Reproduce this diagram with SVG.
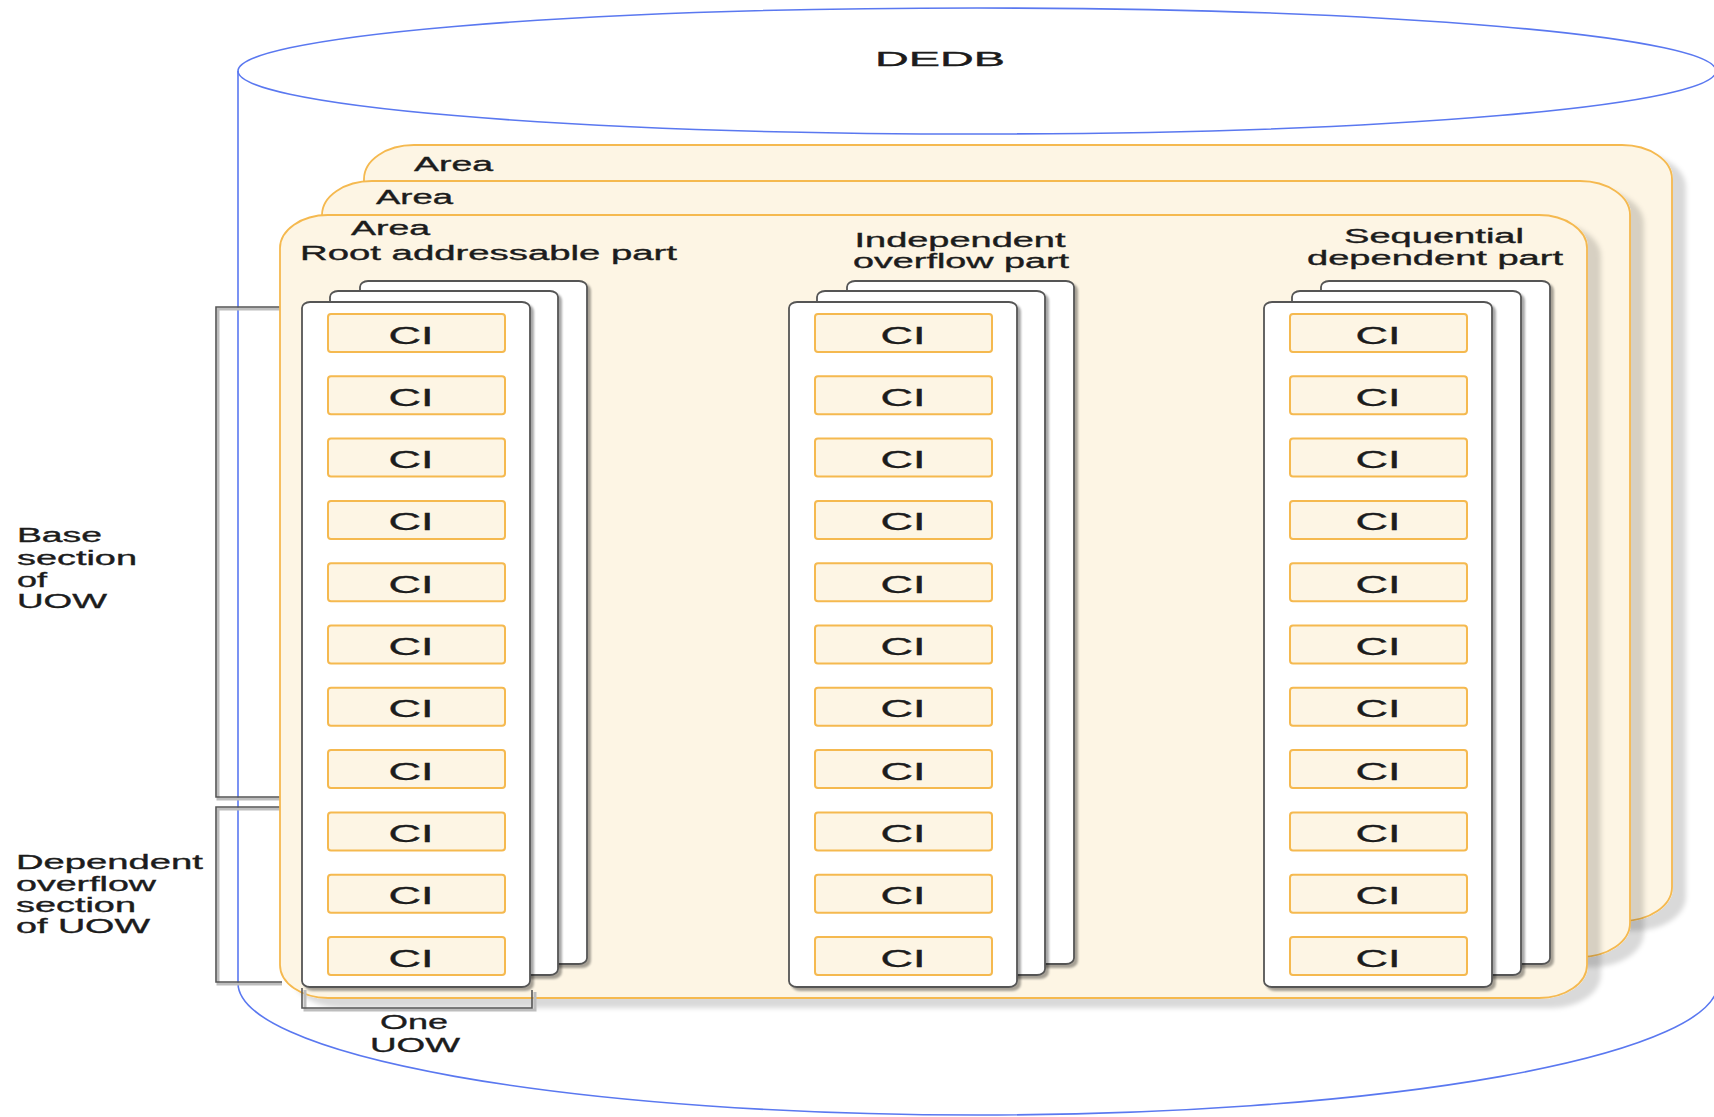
<svg xmlns="http://www.w3.org/2000/svg" width="1714" height="1117" viewBox="0 0 1714 1117">
<defs>
<style>
.t{font-family:"Liberation Sans",Arial,sans-serif;fill:#1c1c1c;stroke:#1c1c1c;stroke-width:0.35;font-size:20px}
.ci-t{font-family:"Liberation Sans",Arial,sans-serif;fill:#1c1c1c;stroke:#1c1c1c;stroke-width:0.35;font-size:23px;text-anchor:middle}
.mid{text-anchor:middle}
.area{fill:#fdf5e4;stroke:#f5b94f;stroke-width:1.8}
.card{fill:#fff;stroke:#555;stroke-width:1.8}
.ci{fill:#fdf5e4;stroke:#f5b94f;stroke-width:2}
.br{fill:none;stroke:#555;stroke-width:1.6}
.brs{fill:none;stroke:#bdbdbd;stroke-width:3}
.cyl{fill:none;stroke:#5a78f0;stroke-width:1.6}
</style>
<filter id="ash" x="-5%" y="-5%" width="115%" height="115%">
<feDropShadow dx="13" dy="9" stdDeviation="2.5" flood-color="#000" flood-opacity="0.15"/>
</filter>
<filter id="csh" x="-5%" y="-5%" width="115%" height="115%">
<feDropShadow dx="3" dy="3" stdDeviation="1.2" flood-color="#000" flood-opacity="0.35"/>
</filter>
</defs>
<rect width="1714" height="1117" fill="#fff"/>

<g id="dedb">
<path class="cyl" d="M238 71 L238 983 A740 132 0 0 0 1718 983 L1718 71"/>
<ellipse class="cyl" cx="977" cy="71" rx="739" ry="63" fill="#fff"/>
<text class="t mid" x="940" y="66" font-size="28" textLength="130" lengthAdjust="spacingAndGlyphs">DEDB</text>
</g>

<g id="connectors">
<path class="brs" d="M282 309 H218 V799 H282"/>
<path class="br" d="M282 307 H216 V797 H282"/>
<path class="brs" d="M282 809 H218 V984 H282"/>
<path class="br" d="M282 807 H216 V982 H282"/>
</g>

<g id="area3">
<rect class="area" filter="url(#ash)" x="364" y="145" width="1308" height="776" rx="50" ry="34"/>
<text class="t" x="414" y="171" textLength="79" lengthAdjust="spacingAndGlyphs">Area</text>
</g>
<g id="area2">
<rect class="area" filter="url(#ash)" x="322" y="181" width="1308" height="776" rx="50" ry="34"/>
<text class="t" x="376" y="204" textLength="77" lengthAdjust="spacingAndGlyphs">Area</text>
</g>
<g id="area1">
<rect class="area" filter="url(#ash)" x="280" y="215" width="1307" height="783" rx="48" ry="33"/>
<text class="t" x="351" y="235" textLength="79" lengthAdjust="spacingAndGlyphs">Area</text>
</g>

<g id="label-root">
<text class="t" x="300" y="260" textLength="377" lengthAdjust="spacingAndGlyphs">Root addressable part</text>
</g>
<g id="label-iovf">
<text class="t mid" x="960" y="247" textLength="211" lengthAdjust="spacingAndGlyphs">Independent</text>
<text class="t mid" x="961" y="268" textLength="216" lengthAdjust="spacingAndGlyphs">overflow part</text>
</g>
<g id="label-sdep">
<text class="t mid" x="1434" y="243" textLength="180" lengthAdjust="spacingAndGlyphs">Sequential</text>
<text class="t mid" x="1435" y="265" textLength="256" lengthAdjust="spacingAndGlyphs">dependent part</text>
</g>

<g id="stack-root">
<rect class="card" filter="url(#csh)" x="360" y="281" width="227" height="683" rx="8" ry="6"/>
<rect class="card" filter="url(#csh)" x="330" y="291" width="228" height="684" rx="8" ry="6"/>
<rect class="card" filter="url(#csh)" x="302" y="302" width="228" height="685" rx="8" ry="6"/>
</g>
<g id="stack-iovf">
<rect class="card" filter="url(#csh)" x="847" y="281" width="227" height="683" rx="8" ry="6"/>
<rect class="card" filter="url(#csh)" x="817" y="291" width="228" height="684" rx="8" ry="6"/>
<rect class="card" filter="url(#csh)" x="789" y="302" width="228" height="685" rx="8" ry="6"/>
</g>
<g id="stack-sdep">
<rect class="card" filter="url(#csh)" x="1321" y="281" width="229" height="683" rx="8" ry="6"/>
<rect class="card" filter="url(#csh)" x="1292" y="291" width="229" height="684" rx="8" ry="6"/>
<rect class="card" filter="url(#csh)" x="1264" y="302" width="228" height="685" rx="8" ry="6"/>
</g>

<g id="ci-root">
<g id="ci-r1"><rect class="ci" x="328" y="314" width="177" height="38" rx="3"/><text class="ci-t" x="411" y="343.5" textLength="45" lengthAdjust="spacingAndGlyphs">CI</text></g>
<g id="ci-r2"><rect class="ci" x="328" y="376.3" width="177" height="38" rx="3"/><text class="ci-t" x="411" y="405.8" textLength="45" lengthAdjust="spacingAndGlyphs">CI</text></g>
<g id="ci-r3"><rect class="ci" x="328" y="438.6" width="177" height="38" rx="3"/><text class="ci-t" x="411" y="468.1" textLength="45" lengthAdjust="spacingAndGlyphs">CI</text></g>
<g id="ci-r4"><rect class="ci" x="328" y="500.9" width="177" height="38" rx="3"/><text class="ci-t" x="411" y="530.4" textLength="45" lengthAdjust="spacingAndGlyphs">CI</text></g>
<g id="ci-r5"><rect class="ci" x="328" y="563.2" width="177" height="38" rx="3"/><text class="ci-t" x="411" y="592.7" textLength="45" lengthAdjust="spacingAndGlyphs">CI</text></g>
<g id="ci-r6"><rect class="ci" x="328" y="625.5" width="177" height="38" rx="3"/><text class="ci-t" x="411" y="655" textLength="45" lengthAdjust="spacingAndGlyphs">CI</text></g>
<g id="ci-r7"><rect class="ci" x="328" y="687.8" width="177" height="38" rx="3"/><text class="ci-t" x="411" y="717.3" textLength="45" lengthAdjust="spacingAndGlyphs">CI</text></g>
<g id="ci-r8"><rect class="ci" x="328" y="750.1" width="177" height="38" rx="3"/><text class="ci-t" x="411" y="779.6" textLength="45" lengthAdjust="spacingAndGlyphs">CI</text></g>
<g id="ci-r9"><rect class="ci" x="328" y="812.4" width="177" height="38" rx="3"/><text class="ci-t" x="411" y="841.9" textLength="45" lengthAdjust="spacingAndGlyphs">CI</text></g>
<g id="ci-r10"><rect class="ci" x="328" y="874.7" width="177" height="38" rx="3"/><text class="ci-t" x="411" y="904.2" textLength="45" lengthAdjust="spacingAndGlyphs">CI</text></g>
<g id="ci-r11"><rect class="ci" x="328" y="937" width="177" height="38" rx="3"/><text class="ci-t" x="411" y="966.5" textLength="45" lengthAdjust="spacingAndGlyphs">CI</text></g>
</g>

<g id="ci-iovf">
<g id="ci-i1"><rect class="ci" x="815" y="314" width="177" height="38" rx="3"/><text class="ci-t" x="903" y="343.5" textLength="45" lengthAdjust="spacingAndGlyphs">CI</text></g>
<g id="ci-i2"><rect class="ci" x="815" y="376.3" width="177" height="38" rx="3"/><text class="ci-t" x="903" y="405.8" textLength="45" lengthAdjust="spacingAndGlyphs">CI</text></g>
<g id="ci-i3"><rect class="ci" x="815" y="438.6" width="177" height="38" rx="3"/><text class="ci-t" x="903" y="468.1" textLength="45" lengthAdjust="spacingAndGlyphs">CI</text></g>
<g id="ci-i4"><rect class="ci" x="815" y="500.9" width="177" height="38" rx="3"/><text class="ci-t" x="903" y="530.4" textLength="45" lengthAdjust="spacingAndGlyphs">CI</text></g>
<g id="ci-i5"><rect class="ci" x="815" y="563.2" width="177" height="38" rx="3"/><text class="ci-t" x="903" y="592.7" textLength="45" lengthAdjust="spacingAndGlyphs">CI</text></g>
<g id="ci-i6"><rect class="ci" x="815" y="625.5" width="177" height="38" rx="3"/><text class="ci-t" x="903" y="655" textLength="45" lengthAdjust="spacingAndGlyphs">CI</text></g>
<g id="ci-i7"><rect class="ci" x="815" y="687.8" width="177" height="38" rx="3"/><text class="ci-t" x="903" y="717.3" textLength="45" lengthAdjust="spacingAndGlyphs">CI</text></g>
<g id="ci-i8"><rect class="ci" x="815" y="750.1" width="177" height="38" rx="3"/><text class="ci-t" x="903" y="779.6" textLength="45" lengthAdjust="spacingAndGlyphs">CI</text></g>
<g id="ci-i9"><rect class="ci" x="815" y="812.4" width="177" height="38" rx="3"/><text class="ci-t" x="903" y="841.9" textLength="45" lengthAdjust="spacingAndGlyphs">CI</text></g>
<g id="ci-i10"><rect class="ci" x="815" y="874.7" width="177" height="38" rx="3"/><text class="ci-t" x="903" y="904.2" textLength="45" lengthAdjust="spacingAndGlyphs">CI</text></g>
<g id="ci-i11"><rect class="ci" x="815" y="937" width="177" height="38" rx="3"/><text class="ci-t" x="903" y="966.5" textLength="45" lengthAdjust="spacingAndGlyphs">CI</text></g>
</g>

<g id="ci-sdep">
<g id="ci-s1"><rect class="ci" x="1290" y="314" width="177" height="38" rx="3"/><text class="ci-t" x="1378" y="343.5" textLength="45" lengthAdjust="spacingAndGlyphs">CI</text></g>
<g id="ci-s2"><rect class="ci" x="1290" y="376.3" width="177" height="38" rx="3"/><text class="ci-t" x="1378" y="405.8" textLength="45" lengthAdjust="spacingAndGlyphs">CI</text></g>
<g id="ci-s3"><rect class="ci" x="1290" y="438.6" width="177" height="38" rx="3"/><text class="ci-t" x="1378" y="468.1" textLength="45" lengthAdjust="spacingAndGlyphs">CI</text></g>
<g id="ci-s4"><rect class="ci" x="1290" y="500.9" width="177" height="38" rx="3"/><text class="ci-t" x="1378" y="530.4" textLength="45" lengthAdjust="spacingAndGlyphs">CI</text></g>
<g id="ci-s5"><rect class="ci" x="1290" y="563.2" width="177" height="38" rx="3"/><text class="ci-t" x="1378" y="592.7" textLength="45" lengthAdjust="spacingAndGlyphs">CI</text></g>
<g id="ci-s6"><rect class="ci" x="1290" y="625.5" width="177" height="38" rx="3"/><text class="ci-t" x="1378" y="655" textLength="45" lengthAdjust="spacingAndGlyphs">CI</text></g>
<g id="ci-s7"><rect class="ci" x="1290" y="687.8" width="177" height="38" rx="3"/><text class="ci-t" x="1378" y="717.3" textLength="45" lengthAdjust="spacingAndGlyphs">CI</text></g>
<g id="ci-s8"><rect class="ci" x="1290" y="750.1" width="177" height="38" rx="3"/><text class="ci-t" x="1378" y="779.6" textLength="45" lengthAdjust="spacingAndGlyphs">CI</text></g>
<g id="ci-s9"><rect class="ci" x="1290" y="812.4" width="177" height="38" rx="3"/><text class="ci-t" x="1378" y="841.9" textLength="45" lengthAdjust="spacingAndGlyphs">CI</text></g>
<g id="ci-s10"><rect class="ci" x="1290" y="874.7" width="177" height="38" rx="3"/><text class="ci-t" x="1378" y="904.2" textLength="45" lengthAdjust="spacingAndGlyphs">CI</text></g>
<g id="ci-s11"><rect class="ci" x="1290" y="937" width="177" height="38" rx="3"/><text class="ci-t" x="1378" y="966.5" textLength="45" lengthAdjust="spacingAndGlyphs">CI</text></g>
</g>

<g id="bracket-uow">
<path class="brs" d="M305 990 V1010 H535 V992"/>
<path class="br" d="M302 988 V1008 H532 V990"/>
</g>

<g id="label-base">
<text class="t" x="17" y="542" textLength="85" lengthAdjust="spacingAndGlyphs">Base</text>
<text class="t" x="17" y="565" textLength="120" lengthAdjust="spacingAndGlyphs">section</text>
<text class="t" x="17" y="587" textLength="30" lengthAdjust="spacingAndGlyphs">of</text>
<text class="t" x="17" y="608" textLength="90" lengthAdjust="spacingAndGlyphs">UOW</text>
</g>
<g id="label-dep">
<text class="t" x="16" y="869" textLength="187" lengthAdjust="spacingAndGlyphs">Dependent</text>
<text class="t" x="16" y="891" textLength="140" lengthAdjust="spacingAndGlyphs">overflow</text>
<text class="t" x="16" y="912" textLength="120" lengthAdjust="spacingAndGlyphs">section</text>
<text class="t" x="16" y="933" textLength="134" lengthAdjust="spacingAndGlyphs">of UOW</text>
</g>
<g id="label-one">
<text class="t mid" x="414" y="1029" textLength="68" lengthAdjust="spacingAndGlyphs">One</text>
<text class="t mid" x="415" y="1052" textLength="90" lengthAdjust="spacingAndGlyphs">UOW</text>
</g>
</svg>
